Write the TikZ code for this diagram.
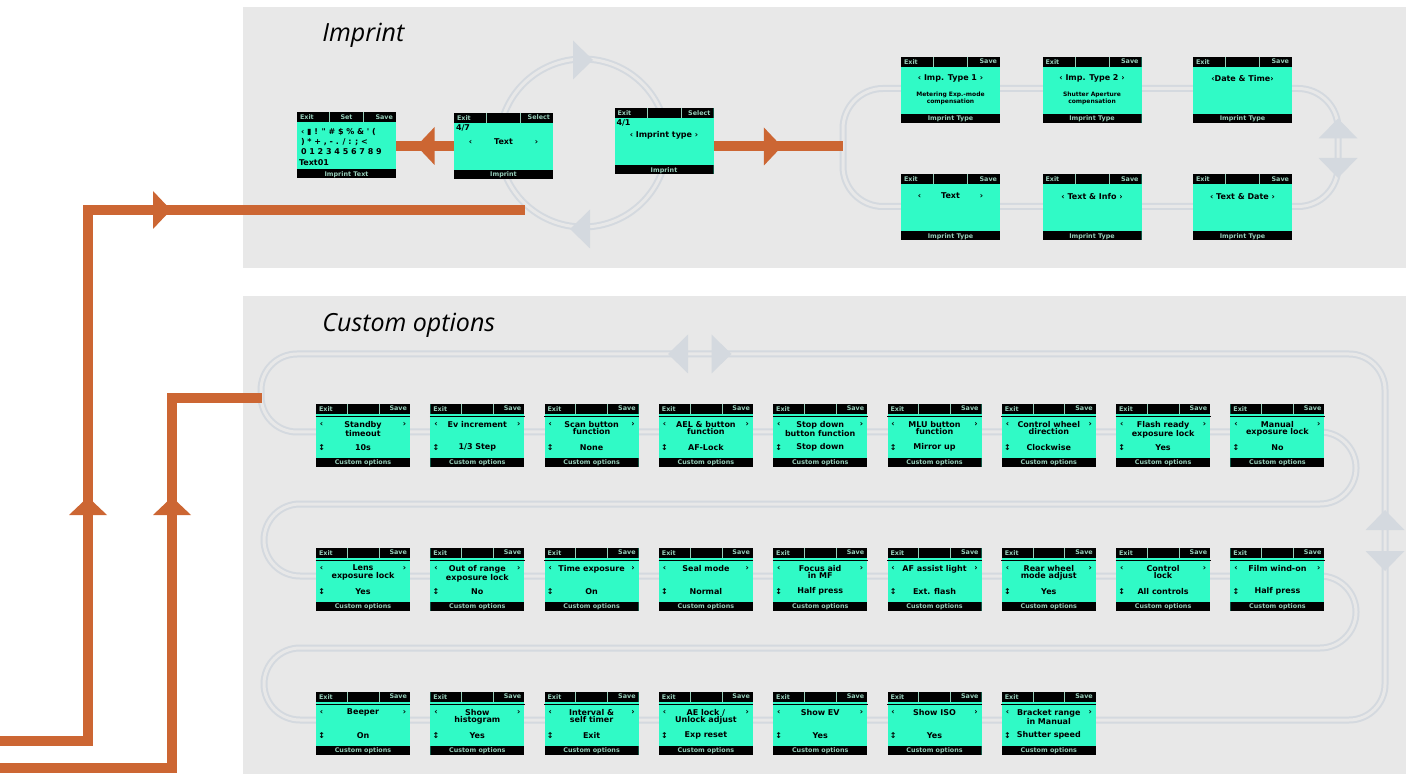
\documentclass[tikz,border=0pt]{standalone}
\usepackage{fontspec}
\setmainfont{Open Sans}
\newfontfamily\lcdface{DejaVu Sans}
\usetikzlibrary{arrows.meta, positioning, calc, decorations.markings}
\definecolor{panelcol}{RGB}{232,232,232}
\definecolor{trackcol}{RGB}{212,217,223}
\definecolor{flowcol}{RGB}{204,102,51}
\definecolor{lcdcol}{RGB}{48,250,198}
\definecolor{barcol}{RGB}{150,205,185}

\tikzset{
  flowhead/.tip={Triangle[length=9pt, width=19pt, line width=0pt]},
  flow/.style={draw=flowcol, line width=5pt},
  flowtip/.style={postaction={decorate, decoration={markings,
      mark=at position #1 with {\arrow{flowhead}}}}},
  track/.style={draw=trackcol, double=panelcol, line width=1pt, double distance=1.5pt},
  trackhead/.pic={\fill[trackcol] (-10,-19.5) -- (10,0) -- (-10,19.5) -- cycle;},
  paneltitle/.style={font=\itshape\fontsize{12.5}{14}\selectfont, anchor=west, inner sep=0pt},
  screen/.style={rectangle, fill=lcdcol, inner sep=0pt,
    path picture={
      \fill[black] (path picture bounding box.north west) rectangle
        ([yshift=-5pt]path picture bounding box.north east);
      \fill[black] (path picture bounding box.south west) rectangle
        ([yshift=4.5pt]path picture bounding box.south east);
      \draw[barcol, line width=0.3pt]
        ($(path picture bounding box.north west)!0.33!(path picture bounding box.north east)$)
        -- ++(0pt,-5pt);
      \draw[barcol, line width=0.3pt]
        ($(path picture bounding box.north west)!0.67!(path picture bounding box.north east)$)
        -- ++(0pt,-5pt);
    }},
  optscreen/.style={screen, minimum width=47pt, minimum height=31.5pt},
  impscreen/.style={screen, minimum width=49.5pt, minimum height=33pt},
  lcdrule/.style={black, line width=0.5pt},
  lcdtext/.style={font=\lcdface\bfseries\fontsize{4}{3.7}\selectfont, inner sep=0pt,
    align=center, text=black},
  notetext/.style={lcdtext, font=\lcdface\bfseries\fontsize{3}{3.6}\selectfont},
  bartext/.style={font=\lcdface\bfseries\fontsize{3.2}{3.2}\selectfont, inner sep=0pt,
    text=barcol}
}

\begin{document}
\begin{tikzpicture}[x=0.5pt, y=-0.5pt]
  \useasboundingbox (0,0) rectangle (1406,774);

  % panels
  \fill[panelcol] (243,7) rectangle (1406,268);
  \fill[panelcol] (243,296) rectangle (1406,774);
  \node[paneltitle] (imprint) at (322,35) {Imprint};
  \node[paneltitle] (custom) at (322,325) {Custom options};

  % menu loops
  \draw[track] (583,143) circle[radius=84];
  \draw[track, rounded corners=20pt] (843,88.5) rectangle (1338,206.5);
  \pic at (583,60) {trackhead};
  \pic[rotate=180] at (580,229) {trackhead};
  \pic[rotate=90] at (1338,128.5) {trackhead};
  \pic[rotate=-90] at (1338,168) {trackhead};

  \draw[track, rounded corners=18pt] (700,354) -- (1385,354) -- (1385,720)
    -- (264,720) -- (264,648) -- (1356,648) -- (1356,576) -- (264,576)
    -- (264,504) -- (1356,504) -- (1356,432) -- (261,432) -- (261,354) -- cycle;
  \pic[rotate=180] at (678,354) {trackhead};
  \pic at (721.5,354) {trackhead};
  \pic[rotate=90] at (1385,520) {trackhead};
  \pic[rotate=-90] at (1385,561) {trackhead};

  % imprint screens
  \node[impscreen] (impA) at (346.5,145.5) {};
  \node[bartext, anchor=west] (impA-exit) at ([xshift=1.5pt,yshift=-2.5pt]impA.north west) {Exit};
  \node[bartext] (impA-set) at ([yshift=-2.5pt]impA.north) {Set};
  \node[bartext, anchor=east] (impA-save) at ([xshift=-1.5pt,yshift=-2.5pt]impA.north east) {Save};
  \node[lcdtext, align=left, anchor=north west, font=\lcdface\bfseries\fontsize{4}{5}\selectfont]
    (impA-chars) at ([xshift=2pt,yshift=-8pt]impA.north west)
    {‹ ▮ ! " \# \$ \% \& ' (\\) * + , - . / : ; <\\0 1 2 3 4 5 6 7 8 9};
  \node[lcdtext, anchor=west] (impA-text) at ([xshift=1pt,yshift=8pt]impA.south west) {Text01};
  \node[bartext] (impA-menu) at ([yshift=2.25pt]impA.south) {Imprint Text};

  \node[impscreen] (impB) at (503.5,146) {};
  \node[bartext, anchor=west] (impB-exit) at ([xshift=1.5pt,yshift=-2.5pt]impB.north west) {Exit};
  \node[bartext, anchor=east] (impB-sel) at ([xshift=-1.5pt,yshift=-2.5pt]impB.north east) {Select};
  \node[lcdtext, anchor=west] (impB-page) at ([xshift=1pt,yshift=-7.5pt]impB.north west) {4/7};
  \node[lcdtext] (impB-item) at ([yshift=-14.5pt]impB.north) {‹\hspace{11pt}Text\hspace{11pt}›};
  \node[bartext] (impB-menu) at ([yshift=2.25pt]impB.south) {Imprint};

  \node[impscreen] (impC) at (664,141.5) {};
  \node[bartext, anchor=west] (impC-exit) at ([xshift=1.5pt,yshift=-2.5pt]impC.north west) {Exit};
  \node[bartext, anchor=east] (impC-sel) at ([xshift=-1.5pt,yshift=-2.5pt]impC.north east) {Select};
  \node[lcdtext, anchor=west] (impC-page) at ([xshift=1pt,yshift=-7.5pt]impC.north west) {4/1};
  \node[lcdtext] (impC-item) at ([yshift=-13.5pt]impC.north) {‹ Imprint type ›};
  \node[bartext] (impC-menu) at ([yshift=2.25pt]impC.south) {Imprint};

  \foreach \n/\tx/\ty/\head in {1/950.5/90/{‹ Imp. Type 1 ›}, 2/1092/90/{‹ Imp. Type 2 ›},
      3/1242.5/90/{‹Date \& Time›}, 4/950.5/207.5/{‹\hspace{10pt}Text\hspace{10pt}›},
      5/1092/207.5/{‹ Text \& Info ›}, 6/1242.5/207.5/{‹ Text \& Date ›}} {
    \node[impscreen] (t\n) at (\tx,\ty) {};
    \node[bartext, anchor=west] (t\n-exit) at ([xshift=1.5pt,yshift=-2.5pt]t\n.north west) {Exit};
    \node[bartext, anchor=east] (t\n-save) at ([xshift=-1.5pt,yshift=-2.5pt]t\n.north east) {Save};
    \node[lcdtext] (t\n-head) at ([yshift=-11pt]t\n.north) {\head};
    \node[bartext] (t\n-menu) at ([yshift=2.25pt]t\n.south) {Imprint Type};
  }
  \node[notetext] (t1-note) at ([yshift=-21pt]t1.north) {Metering Exp.-mode\\compensation};
  \node[notetext] (t2-note) at ([yshift=-21pt]t2.north) {Shutter Aperture\\compensation};

  % custom option screens
  \foreach \n/\opt/\setting in {
      1/{Standby\\timeout}/10s, 2/{Ev increment}/{1/3 Step},
      3/{Scan button\\function}/None, 4/{AEL \& button\\function}/AF-Lock,
      5/{Stop down\\button function}/{Stop down}, 6/{MLU button\\function}/{Mirror up},
      7/{Control wheel\\direction}/Clockwise, 8/{Flash ready\\exposure lock}/Yes,
      9/{Manual\\exposure lock}/No,
      10/{Lens\\exposure lock}/Yes, 11/{Out of range\\exposure lock}/No,
      12/{Time exposure}/On, 13/{Seal mode}/Normal, 14/{Focus aid\\in MF}/{Half press},
      15/{AF assist light}/{Ext. flash}, 16/{Rear wheel\\mode adjust}/Yes,
      17/{Control\\lock}/{All controls}, 18/{Film wind-on}/{Half press},
      19/Beeper/On, 20/{Show\\histogram}/Yes, 21/{Interval \&\\self timer}/Exit,
      22/{AE lock /\\Unlock adjust}/{Exp reset}, 23/{Show EV}/Yes, 24/{Show ISO}/Yes,
      25/{Bracket range\\in Manual}/{Shutter speed}} {
    \pgfmathsetmacro{\cx}{363+114.3*mod(\n-1,9)}
    \pgfmathsetmacro{\cy}{435.5+144*floor((\n-1)/9)}
    \node[optscreen] (c\n) at (\cx,\cy) {};
    \draw[lcdrule] ([yshift=-6.3pt]c\n.north west) -- ([yshift=-6.3pt]c\n.north east);
    \node[bartext, anchor=west] (c\n-exit) at ([xshift=1.5pt,yshift=-2.5pt]c\n.north west) {Exit};
    \node[bartext, anchor=east] (c\n-save) at ([xshift=-1.5pt,yshift=-2.5pt]c\n.north east) {Save};
    \node[bartext] (c\n-menu) at ([yshift=2.25pt]c\n.south) {Custom options};
    \node[lcdtext, anchor=north] (c\n-opt) at ([yshift=-8.5pt]c\n.north) {\opt};
    \node[lcdtext] (c\n-prev) at ([xshift=3pt,yshift=-10.5pt]c\n.north west) {‹};
    \node[lcdtext] (c\n-next) at ([xshift=-3pt,yshift=-10.5pt]c\n.north east) {›};
    \node[lcdtext] (c\n-updown) at ([xshift=3pt,yshift=10pt]c\n.south west) {↕};
    \node[lcdtext] (c\n-set) at ([yshift=10pt]c\n.south) {\setting};
  }

  % orange flow lines
  \coordinate (src1) at (0,741);
  \coordinate (src2) at (0,768);
  \coordinate (circlein) at (525,210);
  \coordinate (loopin) at (262,398);
  \coordinate (typesin) at (843,146.5);
  \draw[flow, flowtip=166pt, flowtip=351pt] (src1) -- ++(88,0) |- (circlein);
  \draw[flow, flowtip=221.5pt] (src2) -- ++(172,0) |- (loopin);
  \draw[flow, flowtip=18.5pt] (impB.west) -- (impB.west -| impA.east);
  \draw[flow, flowtip=34pt] (impC.east |- typesin) -- (typesin);
\end{tikzpicture}
\end{document}
